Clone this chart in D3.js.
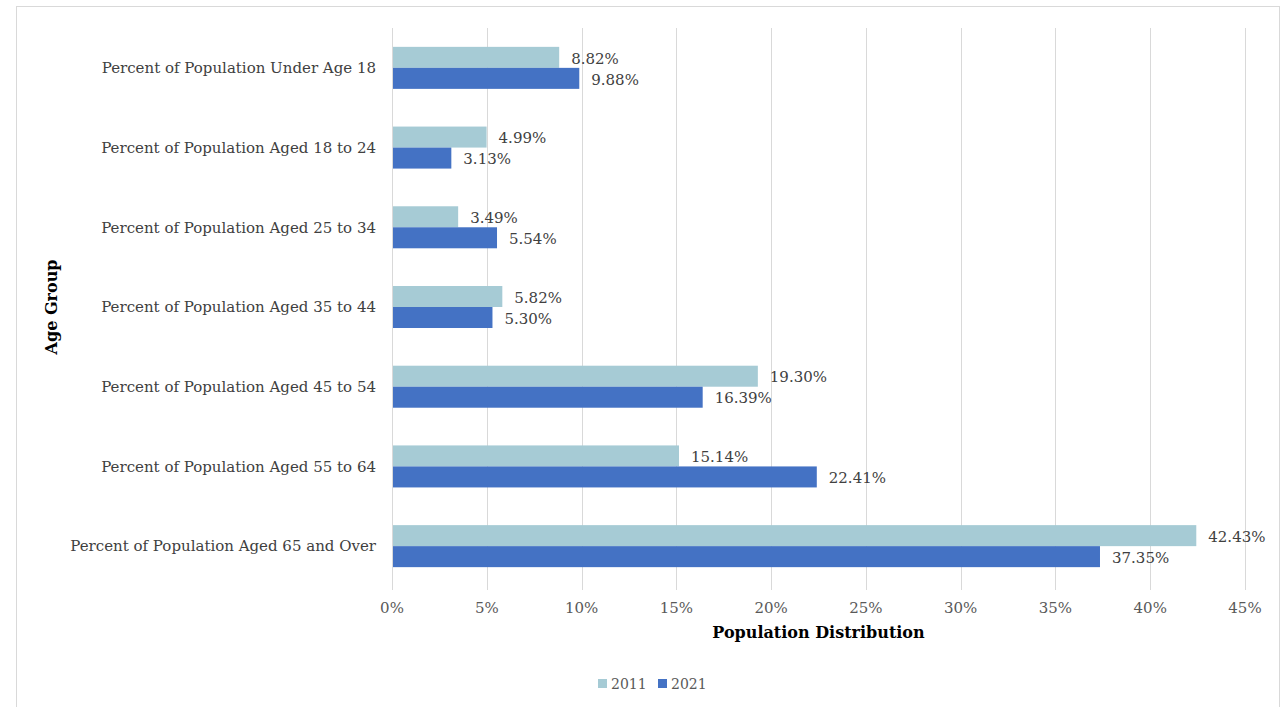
<!DOCTYPE html>
<html>
<head>
<meta charset="utf-8">
<script src="https://cdn.jsdelivr.net/npm/d3@7"></script>
<style>
  html, body { margin: 0; padding: 0; background: #fff; }
  svg { display: block; font-family: "DejaVu Serif", "Liberation Serif", serif; }
</style>
</head>
<body>
<svg id="chart" width="1285" height="707"></svg>
<script>
// Age groups, top to bottom
const categories = [
  "Percent of Population Under Age 18",
  "Percent of Population Aged 18 to 24",
  "Percent of Population Aged 25 to 34",
  "Percent of Population Aged 35 to 44",
  "Percent of Population Aged 45 to 54",
  "Percent of Population Aged 55 to 64",
  "Percent of Population Aged 65 and Over"
];
const seriesNames = ["2011", "2021"];
const values2011 = [8.82, 4.99, 3.49, 5.82, 19.30, 15.14, 42.43];
const values2021 = [9.88, 3.13, 5.54, 5.30, 16.39, 22.41, 37.35];
const xTicks = [0, 5, 10, 15, 20, 25, 30, 35, 40, 45];
const colors = { "2011": "#a6cbd5", "2021": "#4472c4" };

const rows = categories.map((c, i) => ({
  category: c,
  "2011": values2011[i],
  "2021": values2021[i]
}));

const svg = d3.select("#chart");

// Outer frame
svg.append("rect")
  .attr("x", 16.5).attr("y", 6.5)
  .attr("width", 1263).attr("height", 712)
  .attr("fill", "none").attr("stroke", "#d9d9d9").attr("stroke-width", 1);

const plot = { left: 392, right: 1245, top: 28, bottom: 586 };

const x = d3.scaleLinear().domain([0, 45]).range([plot.left, plot.right]);
const y0 = d3.scaleBand().domain(categories)
  .range([plot.top, plot.bottom])
  .paddingInner(0.473).paddingOuter(0.2365);
const y1 = d3.scaleBand().domain(seriesNames).range([0, y0.bandwidth()]);

// Vertical gridlines
svg.append("g")
  .selectAll("line")
  .data(xTicks)
  .join("line")
  .attr("x1", d => Math.round(x(d)) + 0.5)
  .attr("x2", d => Math.round(x(d)) + 0.5)
  .attr("y1", plot.top).attr("y2", plot.bottom + 4)
  .attr("stroke", "#d9d9d9").attr("stroke-width", 1);

// X tick labels
svg.append("g")
  .selectAll("text")
  .data(xTicks)
  .join("text")
  .attr("x", d => x(d))
  .attr("y", 613)
  .attr("text-anchor", "middle")
  .attr("font-size", 15)
  .attr("fill", "#595959")
  .text(d => d + "%");

// Category labels
svg.append("g")
  .selectAll("text")
  .data(categories)
  .join("text")
  .attr("x", 376)
  .attr("y", d => y0(d) + y0.bandwidth() / 2)
  .attr("dy", "0.35em")
  .attr("text-anchor", "end")
  .attr("font-size", 15)
  .attr("fill", "#404040")
  .text(d => d);

// Bars
const groups = svg.append("g")
  .selectAll("g")
  .data(rows)
  .join("g")
  .attr("transform", d => `translate(0,${y0(d.category)})`);

groups.selectAll("rect")
  .data(d => seriesNames.map(k => ({ key: k, value: d[k] })))
  .join("rect")
  .attr("x", x(0))
  .attr("y", d => y1(d.key))
  .attr("width", d => x(d.value) - x(0))
  .attr("height", y1.bandwidth())
  .attr("fill", d => colors[d.key]);

// Value labels
groups.selectAll("text")
  .data(d => seriesNames.map(k => ({ key: k, value: d[k] })))
  .join("text")
  .attr("x", d => x(d.value) + 12)
  .attr("y", d => y1(d.key) + y1.bandwidth() / 2 + 1)
  .attr("dy", "0.35em")
  .attr("font-size", 15)
  .attr("fill", "#404040")
  .text(d => d.value.toFixed(2) + "%");

// Zero axis line
svg.append("line")
  .attr("x1", x(0) + 0.5).attr("x2", x(0) + 0.5)
  .attr("y1", plot.top).attr("y2", plot.bottom + 4)
  .attr("stroke", "#d9d9d9");

// Axis titles
svg.append("text")
  .attr("x", (plot.left + plot.right) / 2)
  .attr("y", 638)
  .attr("text-anchor", "middle")
  .attr("font-size", 16)
  .attr("font-weight", "bold")
  .attr("fill", "#000")
  .text("Population Distribution");

svg.append("text")
  .attr("transform", "translate(57,307) rotate(-90)")
  .attr("text-anchor", "middle")
  .attr("font-size", 16)
  .attr("font-weight", "bold")
  .attr("fill", "#000")
  .text("Age Group");

// Legend
const legend = svg.append("g").attr("transform", "translate(598,679)");
const legendItems = legend.selectAll("g")
  .data(seriesNames)
  .join("g")
  .attr("transform", (d, i) => `translate(${i * 60},0)`);
legendItems.append("rect")
  .attr("width", 9).attr("height", 9)
  .attr("fill", d => colors[d]);
legendItems.append("text")
  .attr("x", 13).attr("y", 5)
  .attr("dy", "0.35em")
  .attr("font-size", 14)
  .attr("fill", "#595959")
  .text(d => d);
</script>
</body>
</html>
